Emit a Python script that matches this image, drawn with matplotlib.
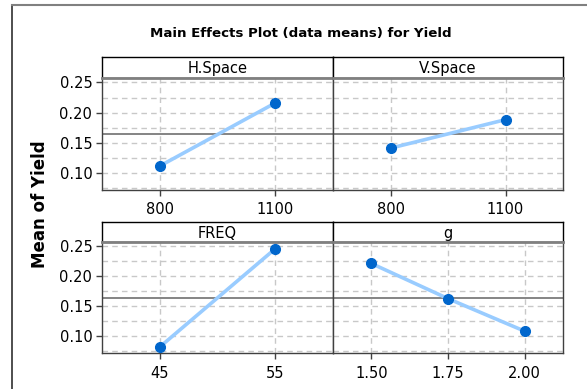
import matplotlib
matplotlib.use("Agg")
import matplotlib.pyplot as plt
from matplotlib.lines import Line2D
import numpy as np

plt.rcParams['font.family'] = ['DejaVu Sans']

# Data
factors = ["H.Space", "V.Space", "FREQ", "g"]
levels = {
    "H.Space": ["800", "1100"],
    "V.Space": ["800", "1100"],
    "FREQ": ["45", "55"],
    "g": ["1.50", "1.75", "2.00"],
}
means = {
    "H.Space": [0.112, 0.216],
    "V.Space": [0.1415, 0.1885],
    "FREQ": [0.0825, 0.246],
    "g": [0.2215, 0.163, 0.1088],
}
grand_mean = 0.1648
y_ticks = [0.10, 0.15, 0.20, 0.25]
y_min, y_max = 0.0725, 0.2572

W, H = 587, 389
fig = plt.figure(figsize=(W / 100, H / 100), dpi=100)

def fr(x0, y0, x1, y1):
    # pixel box (top-left origin) -> figure fraction rect
    return [x0 / W, 1 - y1 / H, (x1 - x0) / W, (y1 - y0) / H]

# outer frame
fig.add_artist(Line2D([12 / W, 12 / W], [0, 1 - 5 / H], transform=fig.transFigure, color="#303030", lw=1.2))
fig.add_artist(Line2D([12 / W, 1], [1 - 5 / H, 1 - 5 / H], transform=fig.transFigure, color="#808080", lw=1.5))

fig.text(301 / W, 1 - 33 / H, "Main Effects Plot (data means) for Yield", ha="center", va="center",
         fontsize=9.6, fontweight="bold")
fig.text(40 / W, 1 - 204 / H, "Mean of Yield", ha="center", va="center", rotation=90,
         fontsize=12, fontweight="bold")

cols = [(102, 333), (333, 563)]
rows = [(57, 78, 190), (222, 242, 353)]

edge = "#404040"
for i, f in enumerate(factors):
    r, c = divmod(i, 2)
    x0, x1 = cols[c]
    hy0, hy1, py1 = rows[r]
    # header
    hax = fig.add_axes(fr(x0, hy0, x1, hy1))
    hax.set_xticks([]); hax.set_yticks([])
    for s in hax.spines.values():
        s.set_color("black"); s.set_linewidth(1.0)
    hax.text(0.5, 0.45, f, ha="center", va="center", fontsize=10.5, transform=hax.transAxes)
    # plot
    ax = fig.add_axes(fr(x0, hy1, x1, py1))
    lv = levels[f]
    xs = np.arange(1, len(lv) + 1)
    ax.set_xlim(0.5, len(lv) + 0.5)
    ax.set_ylim(y_min, y_max)
    for yv in np.arange(0.075, 0.2501, 0.025):
        ax.axhline(yv, color="#C8C8C8", lw=1.0, ls=(0, (4, 3)), zorder=0)
    for xv in xs:
        ax.axvline(xv, color="#C8C8C8", lw=1.0, ls=(0, (4, 3)), zorder=0)
    ax.axhline(grand_mean, color="#707070", lw=1.2, zorder=1)
    ax.plot(xs, means[f], color="#99CCFF", lw=2.6, zorder=2, solid_capstyle="butt")
    ax.plot(xs, means[f], ls="none", marker="o", ms=7, color="#0066CC", zorder=3)
    ax.set_xticks(xs)
    ax.set_xticklabels(lv, fontsize=10.5)
    ax.tick_params(axis="x", length=4, width=1, color=edge, pad=5)
    ax.set_yticks(y_ticks)
    if c == 0:
        ax.set_yticklabels([f"{v:.2f}" for v in y_ticks], fontsize=10.5)
        ax.tick_params(axis="y", length=4, width=1, color=edge, pad=3)
    else:
        ax.tick_params(axis="y", length=0, labelleft=False)
    for s in ax.spines.values():
        s.set_color(edge); s.set_linewidth(1.0)
    ax.spines["top"].set_color("#808080")
    ax.spines["top"].set_linewidth(2.0)

fig.savefig("out.png", dpi=100)
